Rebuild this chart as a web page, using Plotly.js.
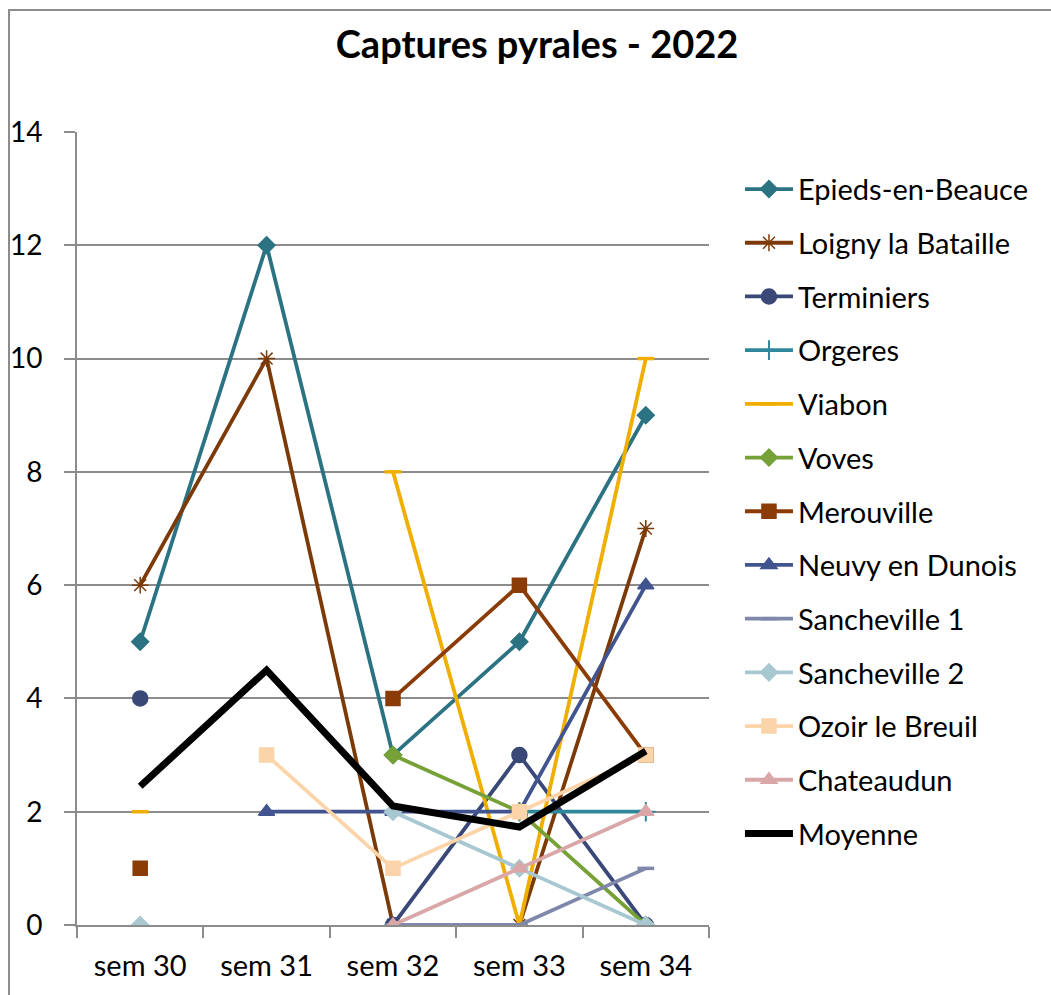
<!DOCTYPE html>
<html>
<head>
<meta charset="utf-8">
<script src="https://cdn.plot.ly/plotly-3.0.1.min.js"></script>
<style>html,body{margin:0;padding:0;background:#fff;}#chart{width:1051px;height:995px;}</style>
</head>
<body>
<div id="chart"></div>
<script>
const weeks = ["sem 30", "sem 31", "sem 32", "sem 33", "sem 34"];
const epieds = [5, 12, 3, 5, 9];
const loigny = [6, 10, 0, 0, 7];
const terminiers = [4, null, 0, 3, 0];
const orgeres = [null, null, null, 2, 2];
const viabon = [2, null, 8, 0, 10];
const voves = [null, null, 3, 2, 0];
const merouville = [1, null, 4, 6, 3];
const neuvy = [null, 2, 2, 2, 6];
const sancheville1 = [null, null, 0, 0, 1];
const sancheville2 = [0, null, 2, 1, 0];
const ozoir = [null, 3, 1, 2, 3];
const chateaudun = [null, null, 0, 1, 2];
const moyenne = [2.45, 4.5, 2.1, 1.73, 3.07];

const FONT = "Lato, 'Open Sans', sans-serif";

function tr(name, y, color, symbol, msize, mlw) {
  return {
    type: "scatter", mode: "lines+markers", name: name, x: weeks, y: y,
    legendgroup: name,
    line: {color: color, width: 3.8},
    marker: {symbol: symbol, size: msize, color: color, line: {color: color, width: mlw || 1.5}},
    connectgaps: false
  };
}

const data = [
  tr("Epieds-en-Beauce", epieds, "#2B7382", "diamond", 13),
  tr("Loigny la Bataille", loigny, "#7B3A08", "asterisk-open", 14),
  tr("Terminiers", terminiers, "#394876", "circle", 15),
  tr("Orgeres", orgeres, "#31879A", "cross-thin-open", 14, 2),
  tr("Viabon", viabon, "#EFAE00", "line-ew-open", 12, 3.5),
  tr("Voves", voves, "#75A136", "diamond", 13),
  tr("Merouville", merouville, "#8A3B06", "square", 14),
  tr("Neuvy en Dunois", neuvy, "#41548F", "triangle-up", 14),
  tr("Sancheville 1", sancheville1, "#7F88AB", "line-ew-open", 12, 3.5),
  tr("Sancheville 2", sancheville2, "#A8C8D1", "diamond", 13),
  tr("Ozoir le Breuil", ozoir, "#FCD4A9", "square", 14),
  tr("Chateaudun", chateaudun, "#D9A7A7", "triangle-up", 14),
  {type: "scatter", mode: "lines", name: "Moyenne", x: weeks, y: moyenne, legendgroup: "Moyenne",
   line: {color: "#000000", width: 7}}
];

const layout = {
  width: 1051, height: 995,
  paper_bgcolor: "#ffffff", plot_bgcolor: "#ffffff",
  margin: {l: 77, r: 342, t: 132, b: 70},
  font: {family: FONT, color: "#000000", size: 28},
  title: {text: "<b>Captures pyrales - 2022</b>", font: {family: FONT, size: 38, color: "#000"},
          x: 0.511, xref: "container", xanchor: "center", y: 0.955, yref: "container", yanchor: "middle"},
  showlegend: true,
  legend: {x: 1.049, xanchor: "left", y: 0.96, yanchor: "top", font: {family: FONT, size: 29},
           itemwidth: 48, tracegroupgap: 13, bgcolor: "rgba(0,0,0,0)", traceorder: "grouped"},
  xaxis: {type: "category", range: [-0.5, 4.5], showgrid: false, zeroline: false,
          showline: true, linecolor: "#8c8c8c", linewidth: 2,
          ticks: "outside", tickson: "boundaries", ticklen: 11, tickcolor: "#8c8c8c", tickwidth: 2,
          ticklabelstandoff: 14,
          tickfont: {family: FONT, size: 29}, fixedrange: true},
  yaxis: {range: [0, 14], dtick: 2, showgrid: true, gridcolor: "#8c8c8c", gridwidth: 2, zeroline: false,
          showline: true, linecolor: "#8c8c8c", linewidth: 2,
          ticks: "outside", ticklen: 11, tickcolor: "#8c8c8c", tickwidth: 2,
          ticklabelstandoff: 16, tickfont: {family: FONT, size: 28}, fixedrange: true},
  shapes: [{type: "rect", xref: "paper", yref: "paper",
            x0: (9 - 77) / 632, x1: (1060 - 77) / 632, y0: -(1010 - 925) / 793, y1: (925 - 10) / 793,
            line: {color: "#8c8c8c", width: 2}, fillcolor: "rgba(0,0,0,0)", layer: "below"}]
};

Plotly.newPlot("chart", data, layout, {displayModeBar: false, staticPlot: true});
</script>
</body>
</html>
